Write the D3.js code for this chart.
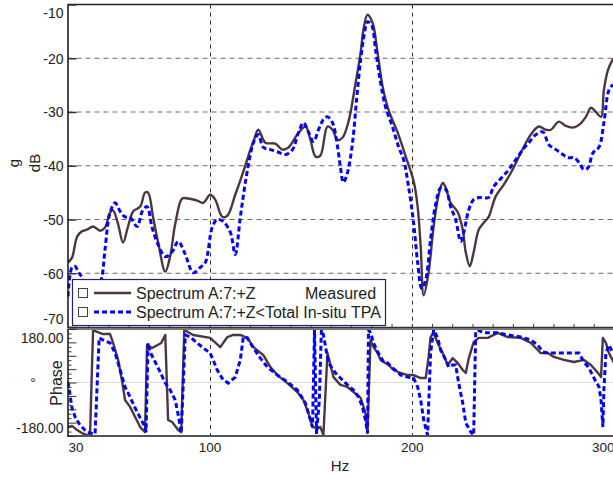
<!DOCTYPE html>
<html><head><meta charset="utf-8">
<script src="https://cdn.jsdelivr.net/npm/d3@7"></script>
<style>
body{margin:0;background:#fff;}
svg{display:block;font-family:"Liberation Sans",Arial,sans-serif;}
</style></head><body>
<svg id="c" width="613" height="477"></svg>
<script>
// ---- data ----
const dbTicks = [-10,-20,-30,-40,-50,-60,-70];
const dbGrid = [-20,-30,-40,-50,-60];
const phaseTicks = [180,-180];
const phaseMinor = [-180,-135,-90,-45,0,45,90,135,180];
const freqTicks = [30,100,200,300];
const freqGrid = [100,200];
const seriesNames = ["Spectrum A:7:+Z", "Spectrum A:7:+Z<Total In-situ TPA"];
const seriesTags = ["Measured", ""];

const measuredMag = [[30,-58.0],[32.0,-57.1],[34.5,-53.2],[36.9,-52.2],[39.4,-51.9],[42.4,-51.3],[45.9,-52.1],[48.3,-51.5],[50.8,-48.7],[52.3,-48.3],[54.8,-50.9],[57.2,-54.3],[59.7,-51.3],[62.2,-48.5],[65.7,-47.6],[68.1,-45.0],[69.6,-45.0],[72.1,-49.6],[74.6,-54.3],[78.1,-59.7],[80.5,-56.9],[83.0,-50.9],[86.5,-46.1],[89.4,-46.1],[93.9,-46.5],[96.9,-46.9],[100.3,-45.4],[102.8,-46.3],[106.3,-49.5],[108.8,-49.3],[112.7,-45.4],[116.7,-41.1],[120.2,-37.0],[121.7,-35.5],[124.1,-33.3],[127.6,-35.7],[132.5,-35.9],[136.0,-37.0],[139.0,-36.6],[143.4,-34.2],[147.4,-32.7],[149.9,-35.2],[152.4,-38.3],[154.8,-38.1],[158.3,-32.7],[160.8,-33.3],[163.3,-35.2],[165.7,-34.8],[168.7,-31.8],[172.2,-24.6],[174.7,-19.0],[176.1,-14.7],[178.1,-11.9],[180.6,-13.4],[183.1,-19.0],[185.6,-25.3],[188.5,-29.6],[193.0,-33.8],[197.0,-38.3],[201.0,-43.0],[202.9,-47.6],[204.4,-55.0],[205.9,-64.1],[208.3,-59.9],[210.8,-51.3],[213.3,-45.4],[215.3,-43.2],[216.8,-44.1],[219.2,-46.9],[222.7,-48.6],[225.2,-51.9],[226.7,-56.1],[228.7,-58.7],[230.6,-56.1],[233.1,-51.9],[235.6,-50.6],[238.0,-49.5],[241.5,-45.7],[245.5,-43.5],[249.9,-40.7],[253.9,-37.6],[258.9,-34.2],[262.8,-32.7],[266.3,-33.3],[268.8,-33.3],[272.7,-31.8],[276.2,-32.6],[279.7,-32.9],[282.7,-32.4],[286.1,-30.9],[288.6,-29.2],[291.1,-30.0],[293.6,-30.9],[295.0,-25.9],[297.0,-22.2],[299.5,-20.1]];

const tpaMag = [[30,-64.3],[32.0,-58.9],[33.5,-58.7],[35.0,-59.7],[36.9,-60.8],[39.9,-65],[43.4,-65],[46.8,-60.6],[48.3,-55.6],[50.8,-48.7],[53.3,-46.9],[55.8,-48.5],[58.2,-49.5],[60.7,-49.6],[64.2,-51.3],[66.7,-48.5],[69.1,-47.6],[71.6,-51.5],[74.6,-54.7],[78.1,-56.9],[81.5,-56.0],[84.5,-54.1],[88.0,-56.5],[91.9,-59.9],[95.4,-58.9],[97.9,-58.0],[101.3,-51.5],[103.8,-50.0],[106.8,-50.4],[110.3,-52.4],[112.7,-56.5],[115.2,-49.6],[117.7,-43.1],[120.2,-37.9],[121.7,-35.7],[124.1,-34.2],[126.6,-36.6],[130.1,-37.0],[133.5,-37.4],[137.5,-37.9],[141.0,-37.0],[143.9,-33.9],[146.4,-32.0],[148.9,-33.7],[151.4,-35.5],[153.9,-33.3],[156.3,-31.4],[158.3,-30.9],[160.8,-32.0],[163.3,-36.5],[164.7,-40.2],[166.2,-43.1],[168.2,-41.3],[170.7,-35.7],[172.7,-27.7],[174.7,-20.3],[176.6,-15.3],[178.1,-13.2],[180.1,-13.8],[182.1,-18.4],[184.6,-24.6],[187.0,-29.0],[190.5,-32.8],[193.5,-36.5],[196.0,-38.9],[198.4,-43.9],[200.9,-50.6],[202.9,-58.0],[204.9,-62.8],[206.9,-61.2],[209.3,-53.7],[211.8,-47.2],[214.3,-44.1],[216.8,-44.4],[219.2,-47.6],[221.7,-50.0],[224.2,-54.1],[225.7,-52.4],[228.2,-48.2],[230.6,-46.3],[234.1,-45.9],[238.0,-45.9],[240.5,-43.9],[245.0,-42.0],[248.0,-40.7],[251.4,-38.9],[254.9,-37.0],[257.9,-35.7],[261.4,-34.2],[264.8,-33.7],[267.8,-36.1],[271.3,-37.0],[274.7,-37.9],[277.2,-38.5],[280.2,-38.5],[282.7,-39.4],[285.1,-40.7],[287.1,-40.4],[289.6,-37.6],[292.6,-36.5],[295.0,-32.0],[297.5,-25.9],[299.5,-24.9]];

const measuredPhase = [[30,-150],[32.0,-146],[34.5,-160],[36.9,-170],[39.4,-177],[40.9,-177],[42.4,177],[44.4,170],[47.3,163],[50.8,163],[52.3,133],[54.8,76],[56.8,2],[58.2,-59],[60.7,-82],[63.2,-116],[65.7,-150],[68.1,-167],[69.1,126],[71.6,116],[76.1,133],[78.1,160],[79.5,-126],[81.5,-133],[84.5,-160],[86.0,-167],[87.5,177],[91.9,160],[100.3,150],[105.3,119],[108.8,153],[111.7,160],[115.2,160],[118.7,150],[121.7,119],[126.6,92],[130.1,52],[133.5,25],[138.5,-2],[143.4,-32],[146.4,-59],[148.9,-103],[150.9,-150],[153.4,-153],[154.8,-150],[156.3,-177],[158.3,99],[161.3,18],[164.7,-8],[168.2,-15],[171.2,-32],[174.7,-52],[177.1,-103],[178.1,-170],[179.6,143],[181.1,119],[183.1,99],[184.6,76],[186.1,69],[188.5,59],[191.0,42],[194.5,32],[197.9,25],[200.9,25],[204.4,15],[206.9,15],[208.3,86],[209.3,153],[210.8,167],[212.8,133],[215.3,99],[217.8,59],[220.2,82],[222.7,66],[225.2,42],[226.7,32],[228.2,82],[230.6,136],[233.1,150],[237.6,150],[242.5,167],[247.5,153],[253.9,150],[258.9,133],[263.8,99],[267.3,99],[270.3,86],[275.2,76],[280.2,69],[285.1,76],[288.6,59],[292.1,32],[293.6,18],[294.5,150],[296.0,133],[297.5,99],[300,66]];

const tpaPhase = [[30,2],[32.0,-86],[33.5,-116],[35.9,-143],[38.4,-160],[40.9,-170],[43.4,-173],[45.4,150],[47.3,143],[50.8,133],[53.3,99],[55.8,42],[58.2,-15],[60.7,-49],[63.2,-86],[65.7,-119],[68.1,-150],[68.6,-167],[69.6,133],[70.6,103],[73.1,69],[75.6,35],[78.1,-2],[80.5,-25],[83.0,-59],[84.5,-109],[86.0,-170],[88.0,160],[90.4,153],[93.9,133],[96.9,116],[100.3,99],[103.8,42],[106.8,8],[109.3,-2],[112.7,18],[115.2,76],[116.7,153],[118.7,150],[121.7,116],[125.1,82],[128.6,52],[133.5,25],[138.5,2],[143.4,-25],[147.4,-69],[149.9,-126],[150.9,-150],[151.9,177],[152.9,-173],[154.3,-59],[155.3,177],[156.3,160],[158.8,66],[162.3,32],[164.7,15],[168.2,-8],[171.2,-25],[173.7,-49],[175.6,-82],[177.1,-126],[178.1,-170],[178.6,178],[179.6,167],[181.1,133],[183.1,103],[184.6,86],[186.1,69],[188.0,66],[190.5,49],[193.0,35],[194.5,25],[197.9,18],[200.9,15],[202.9,-15],[204.4,-59],[205.9,-126],[207.8,-177],[209.3,99],[210.8,177],[212.8,150],[214.3,109],[216.8,76],[218.2,52],[220.2,59],[221.7,59],[223.2,-2],[225.2,-69],[226.7,-136],[229.2,-167],[230.6,-177],[231.6,170],[232.6,177],[235.6,167],[242.5,167],[247.5,160],[253.9,153],[258.9,143],[262.3,126],[264.8,103],[267.3,99],[272.2,99],[277.2,99],[282.7,99],[285.1,69],[287.6,49],[290.1,15],[292.6,-15],[293.6,-59],[294.5,-150],[295.0,-25],[296.0,99],[297.5,126],[299.5,99]];

// ---- layout ----
const left = 67.5, right = 613;
const magTop = 4.5, magBot = 327;
const phTop = 329, phBot = 436;
const darkCol = "#4a3743", blueCol = "#0000ff", textCol = "#222";
const tf = "'Liberation Sans',Arial,sans-serif";

const svg = d3.select("#c");
const x = d3.scaleLinear().domain([30,300]).range([68,614]);
const yMag = d3.scaleLinear().domain([-70,-10]).range([magBot, magTop]);
const yPh = d3.scaleLinear().domain([-180,180]).range([phBot, phTop]);

const defs = svg.append("defs");
defs.append("clipPath").attr("id","cm").append("rect")
  .attr("x",left).attr("y",magTop).attr("width",right-left).attr("height",magBot-magTop);
defs.append("clipPath").attr("id","cp").append("rect")
  .attr("x",left).attr("y",phTop).attr("width",right-left).attr("height",phBot-phTop);

// ---- grids ----
const gGrid = svg.append("g");
gGrid.selectAll("line.h").data(dbGrid).join("line").attr("class","h")
  .attr("x1",left).attr("x2",right).attr("y1",d=>yMag(d)).attr("y2",d=>yMag(d))
  .attr("stroke","#6a6a6a").attr("stroke-width",1).attr("stroke-dasharray","5,4");
gGrid.selectAll("line.v").data(freqGrid).join("line").attr("class","v")
  .attr("x1",d=>Math.round(x(d))+0.5).attr("x2",d=>Math.round(x(d))+0.5)
  .attr("y1",magTop).attr("y2",magBot)
  .attr("stroke","#333").attr("stroke-width",1).attr("stroke-dasharray","4,4");
gGrid.selectAll("line.vp").data(freqGrid).join("line").attr("class","vp")
  .attr("x1",d=>Math.round(x(d))+0.5).attr("x2",d=>Math.round(x(d))+0.5)
  .attr("y1",phTop).attr("y2",phBot)
  .attr("stroke","#333").attr("stroke-width",1).attr("stroke-dasharray","4,4");
gGrid.append("line").attr("x1",left).attr("x2",right)
  .attr("y1",yPh(0)).attr("y2",yPh(0)).attr("stroke","#dcdcdc").attr("stroke-width",1);

// ---- curves ----
const magLine = d3.line().x(d=>x(d[0])).y(d=>yMag(d[1])).curve(d3.curveCatmullRom.alpha(0.5));
const phLine = d3.line().x(d=>x(d[0])).y(d=>yPh(d[1]));

const gm = svg.append("g").attr("clip-path","url(#cm)");
gm.append("path").datum(measuredMag).attr("d",magLine)
  .attr("fill","none").attr("stroke",darkCol).attr("stroke-width",2.4).attr("stroke-linejoin","round");
gm.append("path").datum(tpaMag).attr("d",magLine)
  .attr("fill","none").attr("stroke",blueCol).attr("stroke-width",3).attr("stroke-dasharray","5,3");

const gp = svg.append("g").attr("clip-path","url(#cp)");
gp.append("path").datum(measuredPhase).attr("d",phLine)
  .attr("fill","none").attr("stroke",darkCol).attr("stroke-width",2.4).attr("stroke-linejoin","round");
gp.append("path").datum(tpaPhase).attr("d",phLine)
  .attr("fill","none").attr("stroke",blueCol).attr("stroke-width",3).attr("stroke-dasharray","5,3");

// ---- frames ----
svg.append("line").attr("x1",left).attr("x2",right).attr("y1",magTop).attr("y2",magTop)
  .attr("stroke","#222").attr("stroke-width",1.5);
svg.append("line").attr("x1",left).attr("x2",right).attr("y1",magBot+0.5).attr("y2",magBot+0.5)
  .attr("stroke","#333").attr("stroke-width",1.5);
svg.append("line").attr("x1",left).attr("x2",right).attr("y1",phTop).attr("y2",phTop)
  .attr("stroke","#777").attr("stroke-width",2);
svg.append("line").attr("x1",left).attr("x2",right).attr("y1",phBot).attr("y2",phBot)
  .attr("stroke","#555").attr("stroke-width",2);

// ---- axes ----
const axMag = svg.append("g").attr("transform",`translate(${left},0)`)
  .call(d3.axisLeft(yMag).tickValues(dbTicks).tickSizeInner(-9).tickSizeOuter(0).tickPadding(4).tickFormat(d=>String(d)));
axMag.select(".domain").attr("stroke","#111").attr("stroke-width",1.5);
axMag.selectAll(".tick line").attr("stroke","#333").attr("stroke-width",1.5);
axMag.selectAll(".tick text").attr("font-size",14).attr("fill",textCol).attr("font-family",tf)
  .attr("dy", d => d === -10 ? "0.95em" : d === -70 ? "-0.25em" : "0.35em");

const axPh = svg.append("g").attr("transform",`translate(${left},0)`)
  .call(d3.axisLeft(yPh).tickValues(phaseTicks).tickSizeInner(0).tickSizeOuter(0).tickPadding(4).tickFormat(d=>d.toFixed(2)));
axPh.select(".domain").attr("stroke","#111").attr("stroke-width",1.5);
axPh.selectAll(".tick text").attr("font-size",14).attr("fill",textCol).attr("font-family",tf)
  .attr("dy", d => d > 0 ? "0.95em" : "-0.25em");
const axPhMaj = svg.append("g").attr("transform",`translate(${left},0)`)
  .call(d3.axisLeft(yPh).tickValues(phaseMinor).tickSizeInner(-9).tickSizeOuter(0).tickFormat(""));
axPhMaj.select(".domain").remove();
axPhMaj.selectAll(".tick line").attr("stroke","#333");
const axPhMin = svg.append("g").attr("transform",`translate(${left},0)`)
  .call(d3.axisLeft(yPh).tickValues(d3.range(-165,180,15).filter(v=>v%45!==0)).tickSizeInner(-4).tickSizeOuter(0).tickFormat(""));
axPhMin.select(".domain").remove();
axPhMin.selectAll(".tick line").attr("stroke","#333");

const axX = svg.append("g").attr("transform",`translate(0,${phBot})`)
  .call(d3.axisBottom(x).tickValues(freqTicks).tickSizeInner(0).tickSizeOuter(0).tickPadding(6).tickFormat(d=>String(d)));
axX.select(".domain").remove();
axX.selectAll(".tick text").attr("font-size",13.5).attr("fill",textCol).attr("font-family",tf)
  .attr("text-anchor", d => d === 30 ? "start" : d === 300 ? "end" : "middle");

const axXTop = svg.append("g").attr("transform",`translate(0,${magBot})`)
  .call(d3.axisBottom(x).tickValues(d3.range(30,301,10)).tickSizeInner(-3).tickSizeOuter(0).tickFormat(""));
axXTop.select(".domain").remove();
axXTop.selectAll(".tick line").attr("stroke","#444");

// ---- titles ----
svg.append("text").attr("transform","translate(19,163) rotate(-90)")
  .attr("text-anchor","middle").attr("font-size",15).attr("fill",textCol).attr("font-family",tf).text("g");
svg.append("text").attr("transform","translate(40,163) rotate(-90)")
  .attr("text-anchor","middle").attr("font-size",15).attr("fill",textCol).attr("font-family",tf).text("dB");
svg.append("text").attr("transform","translate(62,383) rotate(-90)")
  .attr("text-anchor","middle").attr("font-size",16).attr("fill",textCol).attr("font-family",tf).text("Phase");
svg.append("text").attr("x",33).attr("y",388)
  .attr("text-anchor","middle").attr("font-size",14).attr("fill",textCol).attr("font-family",tf).text("°");
svg.append("text").attr("x",340).attr("y",471)
  .attr("text-anchor","middle").attr("font-size",15).attr("fill",textCol).attr("font-family",tf).text("Hz");

// ---- legend ----
const lg = svg.append("g");
lg.append("rect").attr("x",72.5).attr("y",279.5).attr("width",313).attr("height",46)
  .attr("fill","#fff").attr("stroke","#22226e").attr("stroke-width",1.2);
const rowsY = [293, 312];
const cols = [darkCol, blueCol];
rowsY.forEach((yy,i)=>{
  lg.append("rect").attr("x",78.5).attr("y",yy-4.5).attr("width",9).attr("height",9)
    .attr("fill","#fff").attr("stroke","#444").attr("stroke-width",1);
  lg.append("line").attr("x1",94).attr("x2",131).attr("y1",yy).attr("y2",yy)
    .attr("stroke",cols[i]).attr("stroke-width",i? 3:2.4).attr("stroke-dasharray", i? "5,3":null);
  lg.append("text").attr("x",136).attr("y",yy+5.5).attr("font-size",16).attr("fill",textCol)
    .attr("font-family",tf).text(seriesNames[i]);
  if (seriesTags[i]) lg.append("text").attr("x",305).attr("y",yy+5.5).attr("font-size",16)
    .attr("fill",textCol).attr("font-family",tf).text(seriesTags[i]);
});
</script>
</body></html>
